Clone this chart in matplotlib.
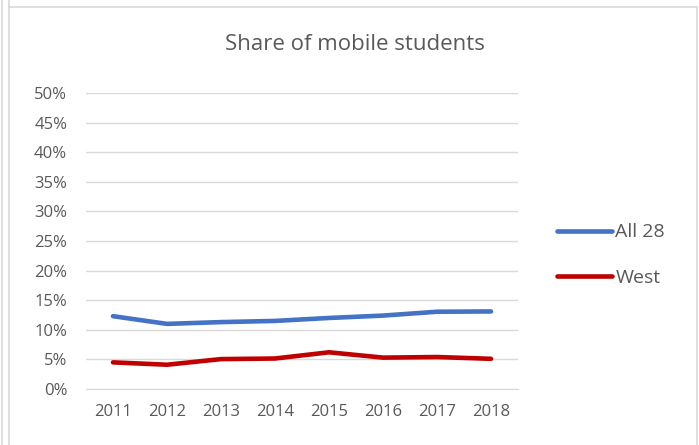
import matplotlib.pyplot as plt
from matplotlib.lines import Line2D
from matplotlib.ticker import FuncFormatter

years = ["2011", "2012", "2013", "2014", "2015", "2016", "2017", "2018"]
all28 = [12.3, 11.0, 11.3, 11.5, 12.0, 12.4, 13.05, 13.1]
west = [4.5, 4.1, 5.05, 5.15, 6.2, 5.3, 5.4, 5.1]

plt.rcParams['font.family'] = ['Open Sans', 'DejaVu Sans']
grey = '#595959'

fig = plt.figure(figsize=(6.99, 4.45), dpi=100)
ax = fig.add_axes([86 / 699, 56 / 445, 432 / 699, 296 / 445])

x = range(len(years))
ax.plot(x, all28, color='#4472C4', lw=3.3, solid_capstyle='round', label='All 28')
ax.plot(x, west, color='#C00000', lw=3.3, solid_capstyle='round', label='West')

ax.set_xlim(-0.5, len(years) - 0.5)
ax.set_ylim(0, 50)
ax.set_yticks(range(0, 51, 5))
ax.yaxis.set_major_formatter(FuncFormatter(lambda v, p: f"{int(v)}%"))
ax.set_xticks(list(x))
ax.set_xticklabels(years)
ax.grid(axis='y', color='#d9d9d9', lw=1)
ax.set_axisbelow(True)
for s in ['top', 'right', 'left']:
    ax.spines[s].set_visible(False)
ax.spines['bottom'].set_color('#d9d9d9')
ax.tick_params(length=0, colors=grey, labelsize=12)
ax.tick_params(axis='y', pad=13.5)
ax.tick_params(axis='x', pad=11)

fig.text(355 / 699, 1 - 45 / 445, "Share of mobile students", ha='center', va='center',
         fontsize=16, color=grey)

fig.legend(loc='center left', bbox_to_anchor=(557 / 699, 1 - 255 / 445), frameon=False,
           fontsize=14, labelcolor=grey, handlelength=2.85, handletextpad=0.15,
           labelspacing=1.4, borderpad=0, borderaxespad=0)

# chart frame
for xs, ys in [([2, 2], [0, 445]), ([9, 9], [0, 445]), ([697, 697], [7, 445]), ([9, 697], [7, 7])]:
    fig.add_artist(Line2D([v / 699 for v in xs], [1 - v / 445 for v in ys], color='#d9d9d9', lw=1.2))

plt.savefig("out.png", dpi=100)
